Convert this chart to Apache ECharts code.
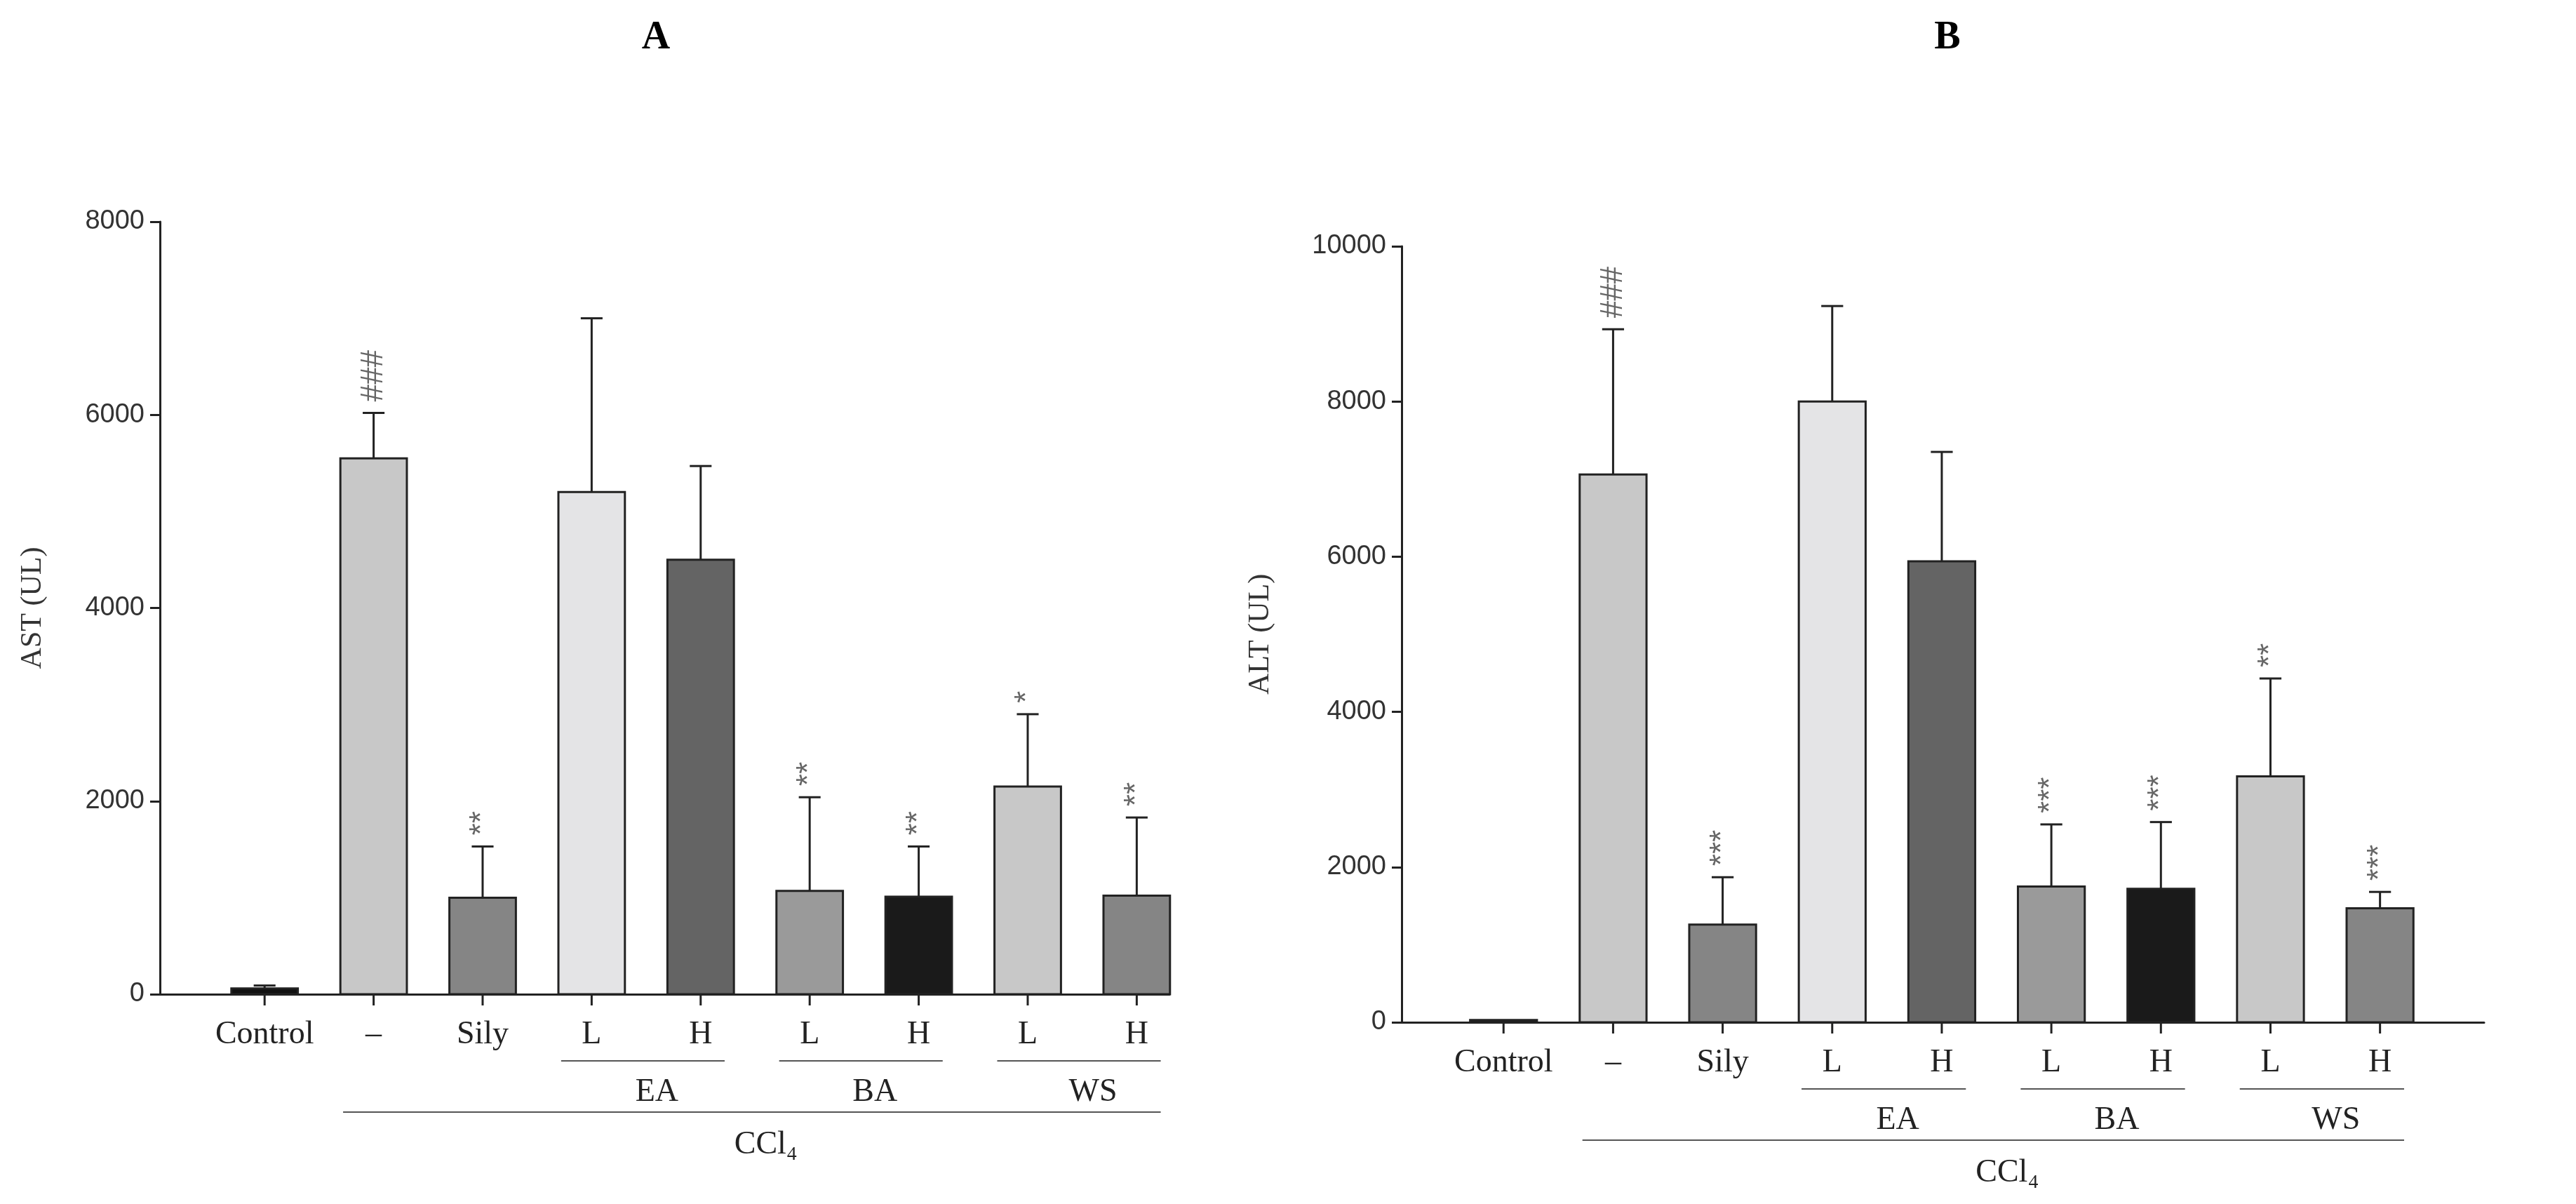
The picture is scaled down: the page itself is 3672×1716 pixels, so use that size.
<!DOCTYPE html>
<html><head><meta charset="utf-8">
<script src="https://cdn.jsdelivr.net/npm/echarts@6/dist/echarts.min.js"></script>
<style>html,body{margin:0;background:#fff}#c{width:3672px;height:1716px}</style>
</head><body><div id="c"></div>
<script>
const categories = ['Control', '\u2013', 'Sily', 'L', 'H', 'L', 'H', 'L', 'H'];
const barColors = ['#111111', '#c8c8c8', '#858585', '#e4e4e6', '#646464', '#9a9a9a', '#1a1a1a', '#c8c8c8', '#858585'];
const astMean = [60, 5550, 1000, 5200, 4500, 1070, 1010, 2150, 1020];
const astUpper = [90, 6020, 1530, 7000, 5470, 2040, 1530, 2900, 1830];
const astSig = ['', '###', '**', '', '', '**', '**', '*', '**'];
const altMean = [30, 7060, 1260, 8000, 5940, 1750, 1720, 3170, 1470];
const altUpper = [30, 8930, 1870, 9230, 7350, 2550, 2580, 4430, 1680];
const altSig = ['', '###', '***', '', '', '***', '***', '**', '***'];
const groups = [['EA', 3, 4], ['BA', 5, 6], ['WS', 7, 8]];
const outerGroup = ['CCl\u2084', 1, 8];

const SERIF = '"Liberation Serif","DejaVu Serif",serif';
const SANS = 'Arial,"Liberation Sans",sans-serif';

function makeRender(mean, upper, sig) {
  return function (params, api) {
    const i = params.dataIndex;
    const children = [];
    const hw = 0.305;
    const p0 = api.coord([i - hw, 0]);
    const p1 = api.coord([i + hw, mean[i]]);
    children.push({type: 'rect', shape: {x: p0[0], y: p1[1], width: p1[0] - p0[0], height: p0[1] - p1[1]},
      style: {fill: barColors[i], stroke: '#222', lineWidth: 3}});
    const top = api.coord([i, upper[i]]);
    const capL = api.coord([i - 0.1, upper[i]]);
    const capR = api.coord([i + 0.1, upper[i]]);
    if (upper[i] > mean[i] + 5) {
      children.push({type: 'line', shape: {x1: top[0], y1: p1[1], x2: top[0], y2: top[1]}, style: {stroke: '#222', lineWidth: 3}});
      children.push({type: 'line', shape: {x1: capL[0], y1: top[1], x2: capR[0], y2: top[1]}, style: {stroke: '#222', lineWidth: 3}});
    }
    if (sig[i]) {
      children.push({type: 'text', x: top[0], y: top[1] - 16, rotation: Math.PI / 2,
        style: {text: sig[i], font: '44px ' + SANS, fill: '#666', align: 'left', verticalAlign: 'middle'}});
    }
    const base = api.coord([i, 0]);
    children.push({type: 'line', shape: {x1: base[0], y1: base[1], x2: base[0], y2: base[1] + 16}, style: {stroke: '#222', lineWidth: 3}});
    children.push({type: 'text', x: base[0], y: base[1] + 58,
      style: {text: categories[i], font: '46px ' + SERIF, fill: '#222', align: 'center', verticalAlign: 'middle'}});
    if (i === 0) {
      const grp = (label, a, b, dy, tdy) => {
        const l = api.coord([a - 0.28, 0]), r = api.coord([b + 0.22, 0]);
        children.push({type: 'line', shape: {x1: l[0], y1: l[1] + dy, x2: r[0], y2: r[1] + dy}, style: {stroke: '#555', lineWidth: 2}});
        children.push({type: 'text', x: (l[0] + r[0]) / 2 + 20, y: l[1] + tdy,
          style: {text: label, font: '46px ' + SERIF, fill: '#222', align: 'center', verticalAlign: 'middle'}});
      };
      groups.forEach(g => grp(g[0], g[1], g[2], 95, 140));
      grp(outerGroup[0], outerGroup[1], outerGroup[2], 168, 215);
    }
    return {type: 'group', children};
  };
}

const yAxisCommon = {
  type: 'value', interval: 2000, min: 0,
  axisLine: {show: true, onZero: false, lineStyle: {color: '#222', width: 3}},
  axisTick: {show: true, length: 14, lineStyle: {color: '#222', width: 3}},
  axisLabel: {fontFamily: SANS, fontSize: 38, color: '#333', margin: 22, formatter: v => String(v)},
  splitLine: {show: false},
  nameLocation: 'middle', nameRotate: 90,
  nameTextStyle: {fontFamily: SERIF, fontSize: 42, color: '#333'}
};
const xAxisCommon = {
  type: 'value', axisLabel: {show: false}, axisTick: {show: false}, splitLine: {show: false},
  axisLine: {show: true, onZero: false, lineStyle: {color: '#222', width: 3}}
};
const idx = categories.map((c, i) => [i, 0]);

const chart = echarts.init(document.getElementById('c'));
chart.setOption({
  animation: false,
  title: [
    {text: 'A', left: 930, top: 22, textAlign: 'center', textStyle: {fontFamily: SERIF, fontSize: 56, fontWeight: 'bold', color: '#000'}},
    {text: 'B', left: 2771, top: 22, textAlign: 'center', textStyle: {fontFamily: SERIF, fontSize: 56, fontWeight: 'bold', color: '#000'}}
  ],
  grid: [
    {left: 228, top: 316, width: 1439, height: 1101},
    {left: 1998, top: 351, width: 1543, height: 1106}
  ],
  xAxis: [
    Object.assign({}, xAxisCommon, {gridIndex: 0, min: -0.96, max: 8.3}),
    Object.assign({}, xAxisCommon, {gridIndex: 1, min: -0.93, max: 8.95})
  ],
  yAxis: [
    Object.assign({}, yAxisCommon, {gridIndex: 0, max: 8000, name: 'AST (UL)', nameGap: 160}),
    Object.assign({}, yAxisCommon, {gridIndex: 1, max: 10000, name: 'ALT (UL)', nameGap: 180})
  ],
  series: [
    {type: 'custom', xAxisIndex: 0, yAxisIndex: 0, clip: false, renderItem: makeRender(astMean, astUpper, astSig), data: idx},
    {type: 'custom', xAxisIndex: 1, yAxisIndex: 1, clip: false, renderItem: makeRender(altMean, altUpper, altSig), data: idx}
  ]
});
</script></body></html>
